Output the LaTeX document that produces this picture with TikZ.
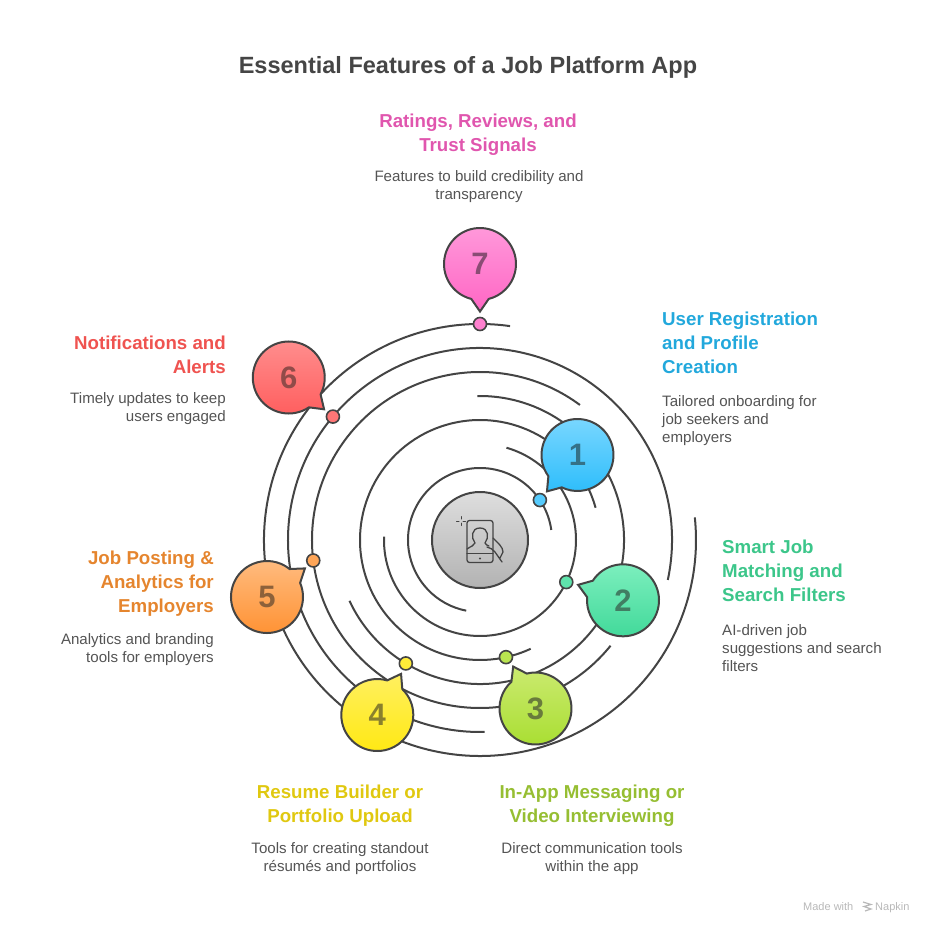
\documentclass[tikz,border=0pt]{standalone}
\usepackage{fontspec}
\setmainfont{Liberation Sans}
\usepackage{tikz}
\usetikzlibrary{calc}

\definecolor{orbit}{HTML}{444444}
\definecolor{topa}{HTML}{7DD8FF}\definecolor{bota}{HTML}{2DBDFB}\definecolor{heada}{HTML}{22A8DC}
\definecolor{topb}{HTML}{80F0C0}\definecolor{botb}{HTML}{3ED898}\definecolor{headb}{HTML}{3CC68A}
\definecolor{topc}{HTML}{CBEA70}\definecolor{botc}{HTML}{A8DE30}\definecolor{headc}{HTML}{96BE32}
\definecolor{topd}{HTML}{FFF060}\definecolor{botd}{HTML}{FFE810}\definecolor{headd}{HTML}{E0C810}
\definecolor{tope}{HTML}{FFBC80}\definecolor{bote}{HTML}{FF9030}\definecolor{heade}{HTML}{E5852E}
\definecolor{topf}{HTML}{FF9090}\definecolor{botf}{HTML}{FF5C5C}\definecolor{headf}{HTML}{EF5350}
\definecolor{topg}{HTML}{FF9ADB}\definecolor{botg}{HTML}{FF66C4}\definecolor{headg}{HTML}{E056AE}

\tikzset{
    orbitline/.style={orbit, line width=2pt},
    orbitdot/.style={circle, draw=orbit, line width=1.6pt, minimum size=13pt, inner sep=0pt},
    numlabel/.style={inner sep=0pt, font=\fontsize{31}{31}\selectfont\bfseries, text=#1!45!orbit},
    headtext/.style={inner sep=0pt, font=\fontsize{18.7}{24}\selectfont\bfseries},
    desctext/.style={inner sep=0pt, text=black!67, font=\fontsize{15.1}{18}\selectfont},
    iconline/.style={orbit, line width=1.3pt, line cap=round, line join=round},
    markfont/.style={inner sep=0pt, text=black!28, anchor=base west, font=\fontsize{11}{13}\selectfont}
}

\begin{document}
\begin{tikzpicture}[x=1pt, y=1pt]
    \useasboundingbox (-480,-395) rectangle (456,540);

    % orbits, radius / start / end
    \foreach \r/\a/\b in {72/8/259, 96/178/434, 120/15.6/295, 144/205/451, 168/53.5/321, 192/-12/271.4, 216/82/366} {
        \draw[orbitline] (\a:\r) arc[start angle=\a, end angle=\b, radius=\r pt];
    }

    % dots on the orbits
    \foreach \n/\r/\a/\c in {1/72/33.7/a, 2/96/-26/b, 3/120/-77.5/c, 4/144/239/d, 5/168/187/e, 6/192/140/f, 7/216/90/g} {
        \node[orbitdot, fill=top\c!50!bot\c] (dot\n) at (\a:\r) {};
    }

    % speech bubbles, centre / tail angle
    \foreach \n/\x/\y/\t/\c in {1/97.5/85/230/a, 2/143/-60.3/161/b, 3/55.5/-168.5/118/c, 4/-102.7/-175/60/d, 5/-213/-57/37/e, 6/-191.2/162.5/-42/f, 7/0/276/-90/g} {
        \draw[orbit, line width=2pt, line join=miter, top color=top\c, bottom color=bot\c]
            ($(\x,\y)+(\t+14:36)$) -- ($(\x,\y)+(\t:47.5)$) -- ($(\x,\y)+(\t-14:36)$)
            arc[start angle=\t-14, delta angle=-332, radius=36pt] -- cycle;
        \node[numlabel=head\c] (num\n) at (\x,\y) {\n};
    }

    % hub
    \node[circle, draw=orbit, line width=2pt, minimum size=96pt, top color=black!13, bottom color=black!30] (hub) at (0,0) {};
    \draw[iconline, rounded corners=2.5pt] (-13,19.5) rectangle (13,-22.5);
    \draw[iconline] (-13,-13.5) -- (13,-13.5);
    \fill[orbit] (0,-18.5) circle (1.2pt);
    \draw[iconline] (-13,-9) .. controls (-9,-6) and (-6,-6) .. (-5,-3) .. controls (-9,2) and (-9,12) .. (0,12)
        .. controls (9,12) and (9,2) .. (5,-3) .. controls (6,-5) and (7,-5) .. (9,-6);
    \draw[iconline] (13,2) .. controls (18,-3) and (23,-7) .. (23,-12) -- (20,-18)
        (7,-7) .. controls (10,-8) and (13,-9) .. (15,-12) -- (22,-22);
    \draw[iconline, line width=1pt] (-23.5,19) -- (-21,19) (-17,19) -- (-14.5,19) (-19,23.5) -- (-19,21) (-19,17) -- (-19,14.5);

    % titles and descriptions
    \node[inner sep=0pt, text=black!73, font=\fontsize{23.5}{28}\selectfont\bfseries] (title) at (-12,473) {Essential Features of a Job Platform App};

    \node[headtext, text=headg, align=center] (headg) at (-2,405) {Ratings, Reviews, and\\Trust Signals};
    \node[desctext, align=center] (descg) at (-1,353) {Features to build credibility and\\transparency};

    \node[headtext, text=heada, align=left, anchor=west] (heada) at (182,197) {User Registration\\and Profile\\Creation};
    \node[desctext, align=left, anchor=west] (desca) at (182,119) {Tailored onboarding for\\job seekers and\\employers};

    \node[headtext, text=headb, align=left, anchor=west] (headb) at (242,-31) {Smart Job\\Matching and\\Search Filters};
    \node[desctext, align=left, anchor=west] (descb) at (242,-108) {AI-driven job\\suggestions and search\\filters};

    \node[headtext, text=headc, align=center] (headc) at (112,-266) {In-App Messaging or\\Video Interviewing};
    \node[desctext, align=center] (descc) at (112,-319) {Direct communication tools\\within the app};

    \node[headtext, text=headd, align=center] (headd) at (-140,-266) {Resume Builder or\\Portfolio Upload};
    \node[desctext, align=center] (descd) at (-140,-319) {Tools for creating standout\\résumés and portfolios};

    \node[headtext, text=heade, align=right, anchor=east] (heade) at (-266,-44) {Job Posting \&\\Analytics for\\Employers};
    \node[desctext, align=right, anchor=east] (desce) at (-266,-110) {Analytics and branding\\tools for employers};

    \node[headtext, text=headf, align=right, anchor=east] (headf) at (-254,185) {Notifications and\\Alerts};
    \node[desctext, align=right, anchor=east] (descf) at (-254,131) {Timely updates to keep\\users engaged};

    % watermark
    \node[markfont] (madewith) at (323,-370) {Made with};
    \node[markfont] (napkin) at (395,-370) {Napkin};
    \draw[black!28, line width=1.2pt] (383,-362) -- (391,-364.5) -- (384,-366.5) -- (391,-369) -- (385,-371);
\end{tikzpicture}
\end{document}
